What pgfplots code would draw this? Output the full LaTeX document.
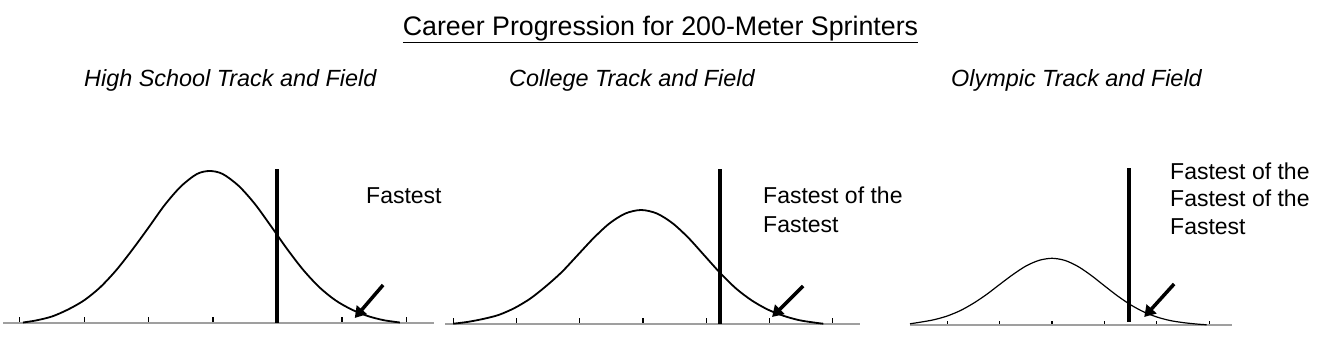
\documentclass[border=0pt]{standalone}
\usepackage{pgfplots}
\pgfplotsset{compat=1.18}
\usepackage{fontspec}
\setmainfont{Liberation Sans}
\usetikzlibrary{arrows.meta}
\pgfplotsset{
  bell/.style={
    scale only axis, anchor=south west, clip=false,
    height=160pt, ymin=0, ymax=160,
    axis x line=bottom, axis y line=none,
    axis line style={-, gray!75, line width=1.5pt},
    xticklabels={}, tick align=inside, major tick length=6pt,
    tick style={black, line width=1.3pt},
  }
}
\begin{document}
\begin{tikzpicture}
\useasboundingbox (0,0) rectangle (1322pt,352pt);
% Panel 1
\begin{axis}[bell, at={(3pt,29pt)}, width=431pt, xmin=-3.26, xmax=3.43, xtick={-3,-2,-1,0,1,2,3}]
\addplot[black, line width=1.8pt, smooth] coordinates {
(-2.95,0.5) (-2.75,2.5) (-2.5,6.5) (-2.25,13.5) (-2.0,22.7) (-1.75,35.8) (-1.5,53) (-1.25,73.5)
(-1.0,95.5) (-0.75,118) (-0.5,136.5) (-0.25,149) (-0.05,152) (0.15,149) (0.4,137) (0.65,119)
(0.9,96.8) (1.15,74) (1.4,53.1) (1.65,35.8) (1.9,22.7) (2.15,13.5) (2.4,7) (2.65,2.8) (2.9,0.5)};
\addplot[black, line width=4pt] coordinates {(0.99,0) (0.99,154)};
\draw[black, line width=3.5pt, -{Triangle[length=11pt,width=13pt]}] (axis cs:2.64,38) -- (axis cs:2.20,5);
\end{axis}
% Panel 2
\begin{axis}[bell, at={(445pt,28pt)}, width=415pt, xmin=-3.13, xmax=3.43, xtick={-3,-2,-1,0,1,2,3}]
\addplot[black, line width=1.8pt, smooth] coordinates {
(-3.0,0.3) (-2.78,2) (-2.53,5) (-2.28,9.1) (-2.03,16) (-1.78,25.5) (-1.53,38) (-1.28,52.2)
(-1.03,69.1) (-0.78,86) (-0.53,100.6) (-0.28,110.5) (-0.03,114) (0.22,110.5) (0.47,100.6)
(0.72,86) (0.97,68.5) (1.22,51) (1.47,35.5) (1.72,23.5) (1.97,14.5) (2.22,8.2) (2.47,3.8) (2.72,1.3) (2.85,0.3)};
\addplot[black, line width=4pt] coordinates {(1.22,0) (1.22,155)};
\draw[black, line width=3.5pt, -{Triangle[length=11pt,width=13pt]}] (axis cs:2.53,38) -- (axis cs:2.04,7);
\end{axis}
% Panel 3
\begin{axis}[bell, at={(910pt,27pt)}, width=322pt, xmin=-2.71, xmax=3.435, xtick={-2,-1,0,1,2,3}, major tick length=3.5pt]
\addplot[black, line width=1.2pt, smooth] coordinates {
(-2.71,1.2) (-2.5,2.9) (-2.25,5.3) (-2.0,9) (-1.75,14.4) (-1.5,21.7) (-1.25,30.5) (-1.0,40.5)
(-0.75,50.3) (-0.5,58.9) (-0.25,64.6) (0,66.7) (0.25,64.5) (0.5,58.4) (0.75,49.5) (1.0,39.2)
(1.25,29.1) (1.5,20.2) (1.75,13.1) (2.0,8) (2.25,4.5) (2.5,2.4) (2.75,1.0) (2.95,0.2)};
\addplot[black, line width=4pt] coordinates {(1.47,3) (1.47,157)};
\draw[black, line width=3.5pt, -{Triangle[length=11pt,width=13pt]}] (axis cs:2.33,41) -- (axis cs:1.76,8);
\end{axis}
% Titles
\node[anchor=base, font=\fontsize{26.8}{30}\selectfont] at (660.5pt,316.3pt) {\underline{Career Progression for 200-Meter Sprinters}};
\node[anchor=base west, inner sep=0pt, font=\fontsize{23.4}{28}\selectfont\itshape] at (84pt,265pt) {High School Track and Field};
\node[anchor=base west, inner sep=0pt, font=\fontsize{23.4}{28}\selectfont\itshape] at (509pt,265pt) {College Track and Field};
\node[anchor=base west, inner sep=0pt, font=\fontsize{23.4}{28}\selectfont\itshape] at (951pt,265pt) {Olympic Track and Field};
% Labels
\node[anchor=base west, inner sep=0pt, font=\fontsize{23}{26}\selectfont] at (366pt,148.7pt) {Fastest};
\node[anchor=base west, inner sep=0pt, font=\fontsize{23}{26}\selectfont] at (763pt,148pt) {Fastest of the};
\node[anchor=base west, inner sep=0pt, font=\fontsize{23}{26}\selectfont] at (763pt,119.3pt) {Fastest};
\node[anchor=base west, inner sep=0pt, font=\fontsize{23}{26}\selectfont] at (1170pt,172.7pt) {Fastest of the};
\node[anchor=base west, inner sep=0pt, font=\fontsize{23}{26}\selectfont] at (1170pt,145.3pt) {Fastest of the};
\node[anchor=base west, inner sep=0pt, font=\fontsize{23}{26}\selectfont] at (1170pt,117pt) {Fastest};
\end{tikzpicture}
\end{document}
